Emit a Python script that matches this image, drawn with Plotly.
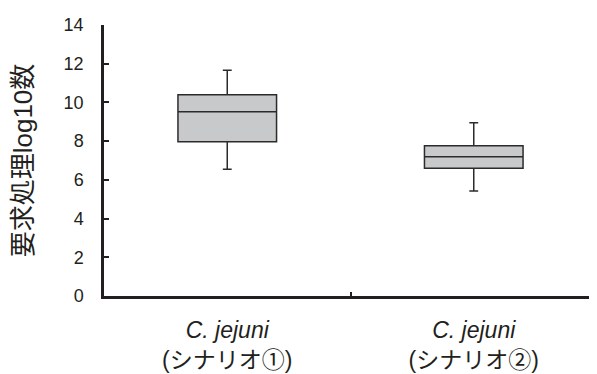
import plotly.graph_objects as go

categories = ["<i>C. jejuni</i><br>(シナリオ①)", "<i>C. jejuni</i><br>(シナリオ②)"]
lower_whisker = [6.55, 5.42]
q1_values = [7.97, 6.6]
median_values = [9.52, 7.2]
q3_values = [10.4, 7.76]
upper_whisker = [11.66, 8.95]
y_tick_values = [0, 2, 4, 6, 8, 10, 12, 14]

fig = go.Figure()
fig.add_trace(go.Box(
    x=categories,
    q1=q1_values,
    median=median_values,
    q3=q3_values,
    lowerfence=lower_whisker,
    upperfence=upper_whisker,
    width=0.4,
    whiskerwidth=0.09,
    fillcolor="#c8c9ca",
    line=dict(color="#2b2b2b", width=1.5),
    boxpoints=False,
    showlegend=False,
    hoverinfo="skip",
))

font_family = "Liberation Sans, Arial, Noto Sans CJK JP, sans-serif"

# the page body has an 8px margin, so the figure is sized to fit the 597x374 window
fig.update_layout(
    width=589, height=366,
    margin=dict(l=96, r=0, t=17, b=78),
    paper_bgcolor="white", plot_bgcolor="white",
    font=dict(family=font_family, color="#231f20"),
    xaxis=dict(
        type="category",
        range=[-0.5, 1.5],
        automargin=False,
        showline=True, linecolor="#231f20", linewidth=2.5,
        ticks="inside", tickson="boundaries", ticklen=4, tickwidth=2, tickcolor="#231f20",
        showgrid=False, zeroline=False,
        tickfont=dict(size=23, family=font_family, color="#231f20"),
        ticklabelstandoff=12,
    ),
    yaxis=dict(
        range=[0, 14],
        automargin=False,
        tickvals=y_tick_values,
        showline=True, linecolor="#231f20", linewidth=2.5,
        ticks="inside", ticklen=5, tickwidth=2, tickcolor="#231f20",
        showgrid=False, zeroline=False,
        tickfont=dict(size=18, family=font_family, color="#231f20"),
        ticklabelstandoff=14,
        title=dict(text="要求処理log10数", font=dict(size=26, family=font_family, color="#231f20"), standoff=26),
    ),
)

fig.write_html("out.html")
